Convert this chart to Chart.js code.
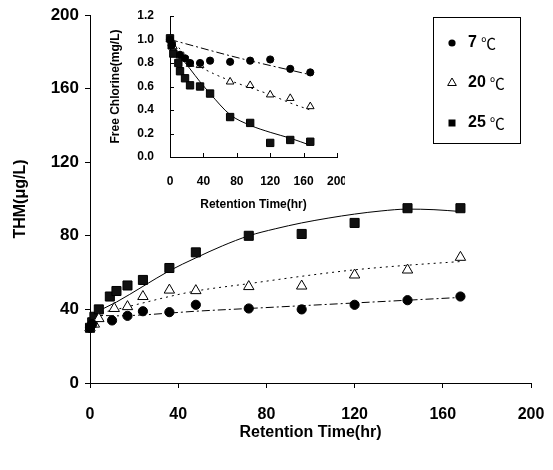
<!DOCTYPE html>
<html><head><meta charset="utf-8">
<script src="https://cdn.jsdelivr.net/npm/chart.js@4/dist/chart.umd.min.js"></script>
<style>
html,body{margin:0;padding:0;background:#fff;}
#wrap{position:relative;width:553px;height:470px;background:#fff;}
#main{position:absolute;left:0;top:0;}
#inset{position:absolute;left:95px;top:3px;}
</style></head><body>
<div id="wrap"><canvas id="main" width="553" height="470"></canvas><canvas id="inset" width="250" height="212"></canvas></div>
<script>
// ---------- data ----------
const seriesLabels = ['7', '20', '25'];
const unitLabel = '℃';

// Main plot: THM (µg/L) vs retention time (hr)
const thmTime7  = [0, 1, 10, 17, 24, 36, 48, 72, 96, 120, 144, 168];
const thm7      = [30, 32, 34, 36.5, 39, 38.5, 42.5, 40.5, 40, 42.5, 45, 47];
const thmTime20 = [0, 2, 4, 11, 17, 24, 36, 48, 72, 96, 120, 144, 168];
const thm20     = [30, 32, 35, 40.5, 41.5, 47, 50.5, 50.2, 52.4, 52.7, 58.7, 61.4, 68.3];
const thmTime25 = [0, 1, 2, 4, 9, 12, 17, 24, 36, 48, 72, 96, 120, 144, 168];
const thm25     = [30, 33, 36, 40, 47, 50, 53, 56, 62.5, 71, 80, 81, 87, 95, 95];

// Main plot trend curves
const fitTime7  = [0, 12, 24, 36, 48, 72, 96, 120, 144, 168];
const fit7      = [37, 36.5, 37, 38, 39, 40.5, 42, 43.5, 45, 46.5];
const fitTime20 = [0, 12, 24, 36, 48, 72, 96, 120, 144, 168];
const fit20     = [37, 40, 43.5, 47, 50, 54, 58, 61.5, 64, 66];
const fitTime25 = [0, 12, 24, 36, 48, 60, 72, 84, 96, 108, 120, 132, 144, 156, 168];
const fit25     = [37, 44, 52.5, 61, 68, 74.5, 80, 83.8, 87, 89.6, 91.8, 93.5, 94.5, 94.2, 93.2];

// Inset: free chlorine (mg/L) vs retention time (hr)
const clTime7  = [0, 2, 12, 18, 24, 36, 48, 72, 96, 120, 144, 168];
const cl7      = [1.0, 0.95, 0.87, 0.84, 0.80, 0.80, 0.82, 0.81, 0.82, 0.83, 0.75, 0.72];
const clTime20 = [0, 4, 12, 24, 36, 72, 96, 120, 144, 168];
const cl20     = [1.0, 0.94, 0.86, 0.79, 0.78, 0.64, 0.61, 0.53, 0.50, 0.43];
const clTime25 = [0, 2, 4, 10, 12, 18, 24, 36, 48, 72, 96, 120, 144, 168];
const cl25     = [1.01, 0.95, 0.88, 0.80, 0.73, 0.67, 0.61, 0.60, 0.54, 0.34, 0.29, 0.12, 0.145, 0.13];

const clFitTime7  = [0, 84, 168];
const clFit7      = [1.0, 0.84, 0.70];
const clFitTime20 = [0, 12, 24, 36, 52, 72, 96, 120, 144, 168];
const clFit20     = [1.0, 0.92, 0.84, 0.77, 0.71, 0.65, 0.59, 0.53, 0.46, 0.40];
const clFitTime25 = [0, 6, 12, 24, 36, 48, 72, 96, 120, 144, 168];
const clFit25     = [1.0, 0.925, 0.86, 0.75, 0.64, 0.54, 0.36, 0.27, 0.21, 0.16, 0.10];

// Tick labels
const mainXTicks  = [0, 40, 80, 120, 160, 200];
const mainYTicks  = [0, 40, 80, 120, 160, 200];
const insetXTicks = [0, 40, 80, 120, 160, 200];
const insetYTicks = [0, 0.2, 0.4, 0.6, 0.8, 1.0, 1.2];

// ---------- helpers ----------
const F = '"Liberation Sans", Arial, sans-serif';
const pts = (xs, ys) => xs.map((x, i) => ({x: x, y: ys[i]}));
const dash7 = [8, 3, 2, 3];
const dash20 = [2, 4];

function markerSet(r) {
  return {
    7:  {pointStyle: 'circle',   radius: r.c, bg: '#000', bc: '#000'},
    20: {pointStyle: 'triangle', radius: r.t, bg: '#fff', bc: '#000'},
    25: {pointStyle: 'rect',     radius: r.s, bg: '#111', bc: '#000'}
  };
}

function scatterDs(label, data, m) {
  return {label: label, data: data, showLine: false, pointStyle: m.pointStyle,
    pointRadius: m.radius, pointBackgroundColor: m.bg, pointBorderColor: m.bc,
    pointBorderWidth: 1, clip: false, order: 0};
}
function lineDs(data, dash) {
  return {label: '', data: data, showLine: true, pointRadius: 0, borderColor: '#000',
    borderWidth: 1, borderDash: dash, tension: 0.4, cubicInterpolationMode: 'monotone',
    fill: false, clip: false, order: 1};
}
function noPadH(s) { s.paddingLeft = 0; s.paddingRight = 0; }
function noPadV(s) { s.paddingTop = 0; s.paddingBottom = 0; }

// ---------- main chart ----------
const mm = markerSet({c: 4.6, t: 6, s: 6.4});
const legendPlugin = {
  id: 'boxLegend',
  afterDraw(chart) {
    const ctx = chart.ctx;
    ctx.save();
    ctx.strokeStyle = '#000'; ctx.lineWidth = 1;
    ctx.strokeRect(433.5, 17.5, 87, 126);
    const rows = [43, 83, 123];
    seriesLabels.forEach((lab, i) => {
      const y = rows[i], x = 452;
      ctx.beginPath();
      if (i === 0) { ctx.arc(x, y, 3.6, 0, Math.PI * 2); ctx.fillStyle = '#000'; ctx.fill(); }
      else if (i === 1) {
        const r = 5; ctx.moveTo(x, y - r); ctx.lineTo(x + r * 0.866, y + r * 0.5); ctx.lineTo(x - r * 0.866, y + r * 0.5); ctx.closePath();
        ctx.fillStyle = '#fff'; ctx.fill(); ctx.stroke();
      } else { ctx.fillStyle = '#000'; ctx.fillRect(x - 3.5, y - 3.5, 7, 7); }
      ctx.fillStyle = '#000';
      ctx.textBaseline = 'middle'; ctx.textAlign = 'left';
      ctx.font = 'bold 16px ' + F;
      ctx.fillText(lab, 468, y);
      const w = ctx.measureText(lab).width;
      ctx.font = '15px "Noto Sans CJK SC", ' + F;
      ctx.fillText(unitLabel, 468 + w + 4, y);
    });
    ctx.restore();
  }
};

new Chart(document.getElementById('main'), {
  type: 'scatter',
  data: {datasets: [
    scatterDs(seriesLabels[0] + ' ' + unitLabel, pts(thmTime7, thm7), mm[7]),
    scatterDs(seriesLabels[1] + ' ' + unitLabel, pts(thmTime20, thm20), mm[20]),
    scatterDs(seriesLabels[2] + ' ' + unitLabel, pts(thmTime25, thm25), mm[25]),
    lineDs(pts(fitTime7, fit7), dash7),
    lineDs(pts(fitTime20, fit20), dash20),
    lineDs(pts(fitTime25, fit25), [])
  ]},
  options: {
    responsive: false, animation: false, devicePixelRatio: 1,
    layout: {padding: {left: 0, top: 15, right: 22, bottom: 0}},
    plugins: {legend: {display: false}, tooltip: {enabled: false}},
    scales: {
      x: {type: 'linear', min: 0, max: 200,
        afterBuildTicks: s => { s.ticks = mainXTicks.map(v => ({value: v})); },
        afterFit: s => { s.height = 87; noPadH(s); },
        grid: {drawOnChartArea: false, tickLength: 5, tickColor: '#000'},
        border: {color: '#000', width: 1},
        ticks: {color: '#000', font: {family: F, size: 16, weight: 'bold'}, padding: 17, maxRotation: 0, autoSkip: false},
        title: {display: true, text: 'Retention Time(hr)', color: '#000', font: {family: F, size: 16, weight: 'bold'}, padding: {top: 0, bottom: 28}}
      },
      y: {type: 'linear', min: 0, max: 200,
        afterBuildTicks: s => { s.ticks = mainYTicks.map(v => ({value: v})); },
        afterFit: s => { s.width = 90; noPadV(s); },
        grid: {drawOnChartArea: false, tickLength: 5, tickColor: '#000'},
        border: {color: '#000', width: 1},
        ticks: {color: '#000', font: {family: F, size: 17, weight: 'bold'}, padding: 6, autoSkip: false},
        title: {display: true, text: 'THM(μg/L)', color: '#000', font: {family: F, size: 16, weight: 'bold'}, padding: {top: 11, bottom: 0}}
      }
    }
  },
  plugins: [legendPlugin]
});

// ---------- inset chart ----------
const im = markerSet({c: 3.6, t: 4.4, s: 5.2});
const innerTicks = {
  id: 'innerTicks',
  afterDraw(chart) {
    const {ctx, chartArea: a, scales} = chart;
    ctx.save(); ctx.strokeStyle = '#000'; ctx.lineWidth = 1;
    scales.x.ticks.forEach(t => {
      const px = Math.round(scales.x.getPixelForValue(t.value)) + 0.5;
      ctx.beginPath(); ctx.moveTo(px, a.bottom); ctx.lineTo(px, a.bottom - 4); ctx.stroke();
    });
    scales.y.ticks.forEach(t => {
      const py = Math.round(scales.y.getPixelForValue(t.value)) + 0.5;
      ctx.beginPath(); ctx.moveTo(a.left, py); ctx.lineTo(a.left + 4, py); ctx.stroke();
    });
    ctx.restore();
  }
};

new Chart(document.getElementById('inset'), {
  type: 'scatter',
  data: {datasets: [
    scatterDs('7', pts(clTime7, cl7), im[7]),
    scatterDs('20', pts(clTime20, cl20), im[20]),
    scatterDs('25', pts(clTime25, cl25), im[25]),
    lineDs(pts(clFitTime7, clFit7), dash7),
    lineDs(pts(clFitTime20, clFit20), dash20),
    lineDs(pts(clFitTime25, clFit25), [])
  ]},
  options: {
    responsive: false, animation: false, devicePixelRatio: 1,
    layout: {padding: {left: 0, top: 13, right: 8, bottom: 0}},
    plugins: {legend: {display: false}, tooltip: {enabled: false}},
    scales: {
      x: {type: 'linear', min: 0, max: 200,
        afterBuildTicks: s => { s.ticks = insetXTicks.map(v => ({value: v})); },
        afterFit: s => { s.height = 58; noPadH(s); },
        grid: {drawOnChartArea: false, drawTicks: false},
        border: {color: '#000', width: 1},
        ticks: {color: '#000', font: {family: F, size: 12, weight: 'bold'}, padding: 17, maxRotation: 0, autoSkip: false},
        title: {display: true, text: 'Retention Time(hr)', color: '#000', font: {family: F, size: 12, weight: 'bold'}, padding: {top: 0, bottom: 3}}
      },
      y: {type: 'linear', min: 0, max: 1.2,
        afterBuildTicks: s => { s.ticks = insetYTicks.map(v => ({value: v})); },
        afterFit: s => { s.width = 75; noPadV(s); },
        grid: {drawOnChartArea: false, drawTicks: false},
        border: {color: '#000', width: 1},
        ticks: {color: '#000', font: {family: F, size: 12, weight: 'bold'}, padding: 16, autoSkip: false,
          callback: v => Number(v).toFixed(1)},
        title: {display: true, text: 'Free Chlorine(mg/L)', color: '#000', font: {family: F, size: 12, weight: 'bold'}, padding: {top: 13, bottom: 0}}
      }
    }
  },
  plugins: [innerTicks]
});
</script>
</body></html>
